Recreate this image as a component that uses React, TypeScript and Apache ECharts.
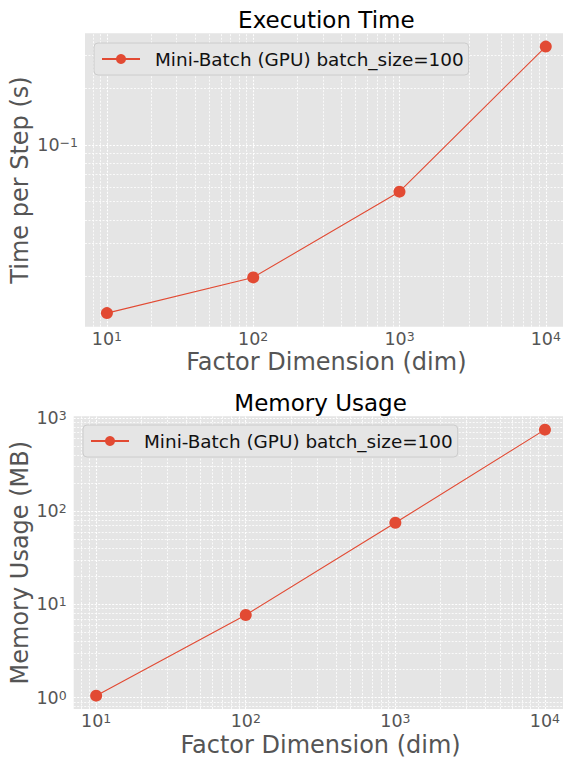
import React, { useEffect, useRef } from "react";
import * as echarts from "echarts";

// ---- data ----
const dims = [10, 100, 1000, 10000];
const timePerStep = [0.0128, 0.0198, 0.0565, 0.333];
const memoryMB = [1.05, 7.7, 75, 748];
const seriesName = "Mini-Batch (GPU) batch_size=100";
const titles = ["Execution Time", "Memory Usage"];
const yNames = ["Time per Step (s)", "Memory Usage (MB)"];
const xName = "Factor Dimension (dim)";

// axis extents in log10 units (matplotlib 5% margins)
const xLogRange = [0.85, 4.15];
const timeLogRange = [-1.965, -0.407];
const memLogRange = [-0.122, 3.017];

const FONT = "DejaVu Sans";
const RED = "#E24A33";
const BG = "#E5E5E5";
const GREY = "#555555";

function majorValues(r: number[]) {
  const out: number[] = [];
  for (let e = Math.ceil(r[0]); e <= Math.floor(r[1]); e++) out.push(Math.pow(10, e));
  return out;
}
function minorValues(r: number[]) {
  const out: number[] = [];
  for (let e = Math.floor(r[0]); e <= Math.ceil(r[1]); e++) {
    for (let m = 2; m <= 9; m++) {
      const v = m * Math.pow(10, e);
      const lv = Math.log10(v);
      if (lv > r[0] && lv < r[1]) out.push(v);
    }
  }
  return out;
}

function powLabel(v: number) {
  const e = Math.log10(v);
  const r = Math.round(e);
  if (Math.abs(e - r) > 1e-6) return "";
  const s = r < 0 ? "\u2212" + String(-r) : String(r);
  return "{b|10}{s|" + s + "}";
}

const rich = {
  b: { fontSize: 17.5, color: GREY, fontFamily: FONT, lineHeight: 18, verticalAlign: "middle" },
  s: { fontSize: 12.5, color: GREY, fontFamily: FONT, lineHeight: 8, verticalAlign: "top" },
};

const grids = [
  { left: 85, top: 33.3, width: 482.7, height: 293.4 },
  { left: 73.7, top: 416.3, width: 493.7, height: 292.7 },
];
const yRanges = [timeLogRange, memLogRange];
const yValues = [timePerStep, memoryMB];
const yNameGaps = [53, 42];
const legendPos = [
  { left: 94, top: 43 },
  { left: 83, top: 425 },
];

export default function App() {
  const ref = useRef<HTMLDivElement>(null);
  useEffect(() => {
    if (!ref.current) return;
    const chart = echarts.init(ref.current, undefined, { renderer: "svg" });

    const xAxis = grids.map((_, i) => ({
      type: "log",
      logBase: 10,
      gridIndex: i,
      min: Math.pow(10, xLogRange[0]),
      max: Math.pow(10, xLogRange[1]),
      axisLine: { show: false },
      axisTick: { show: false },
      splitLine: { show: false },
      axisLabel: { formatter: powLabel, rich, margin: 3 },
      name: xName,
      nameLocation: "middle",
      nameGap: 23.5,
      nameMoveOverlap: false,
      nameTextStyle: { fontSize: 24, color: GREY, fontFamily: FONT },
    }));
    const yAxis = grids.map((_, i) => ({
      type: "log",
      logBase: 10,
      gridIndex: i,
      min: Math.pow(10, yRanges[i][0]),
      max: Math.pow(10, yRanges[i][1]),
      axisLine: { show: false },
      axisTick: { show: false },
      splitLine: { show: false },
      axisLabel: { formatter: powLabel, rich, margin: 7 },
      name: yNames[i],
      nameLocation: "middle",
      nameGap: yNameGaps[i],
      nameMoveOverlap: false,
      nameTextStyle: { fontSize: 24, color: GREY, fontFamily: FONT },
    }));

    const series: any[] = [];
    grids.forEach((_, i) => {
      const lines = [
        ...majorValues(xLogRange).map((v) => ({ xAxis: v, lineStyle: { width: 1.1 } })),
        ...minorValues(xLogRange).map((v) => ({ xAxis: v, lineStyle: { width: 0.8 } })),
        ...majorValues(yRanges[i]).map((v) => ({ yAxis: v, lineStyle: { width: 1.1 } })),
        ...minorValues(yRanges[i]).map((v) => ({ yAxis: v, lineStyle: { width: 0.8 } })),
      ];
      series.push({
        type: "line",
        name: "__grid" + i,
        xAxisIndex: i,
        yAxisIndex: i,
        data: [],
        silent: true,
        z: 1,
        markLine: {
          silent: true,
          z: 1,
          symbol: ["none", "none"],
          label: { show: false },
          emphasis: { disabled: true },
          lineStyle: { color: "#ffffff", type: [2, 1.5], opacity: 1 },
          data: lines,
        },
      });
      series.push({
        type: "line",
        name: seriesName,
        xAxisIndex: i,
        yAxisIndex: i,
        data: dims.map((d, k) => [d, yValues[i][k]]),
        symbol: "circle",
        symbolSize: 12,
        showSymbol: true,
        itemStyle: { color: RED },
        lineStyle: { color: RED, width: 1.1 },
        emphasis: { disabled: true },
        z: 3,
      });
    });

    chart.setOption({
      animation: false,
      textStyle: { fontFamily: FONT },
      grid: grids.map((g) => ({ ...g, backgroundColor: BG, show: true, borderWidth: 0, outerBoundsMode: "none", containLabel: false })),
      xAxis,
      yAxis,
      legend: legendPos.map((p) => ({
        data: [seriesName],
        ...p,
        orient: "horizontal",
        padding: [5, 5, 5, 7],
        backgroundColor: BG,
        borderColor: "#cccccc",
        borderWidth: 1,
        borderRadius: 4,
        itemWidth: 38,
        itemHeight: 12.5,
        selectedMode: false,
        z: 10,
        textStyle: { fontSize: 18.4, color: "#111", fontFamily: FONT, lineHeight: 22, padding: [0, 0, 0, 10] },
      })),
      graphic: titles.map((t, i) => ({
        type: "text",
        x: grids[i].left + grids[i].width / 2,
        y: grids[i].top - 13,
        style: {
          text: t,
          fontSize: 23,
          fontFamily: FONT,
          fill: "#000",
          textAlign: "center",
          textVerticalAlign: "middle",
        },
      })),
      series,
    });
    return () => chart.dispose();
  }, []);
  return <div ref={ref} style={{ position: "fixed", left: 0, top: 0, width: 563, height: 760, background: "#fff" }} />;
}
